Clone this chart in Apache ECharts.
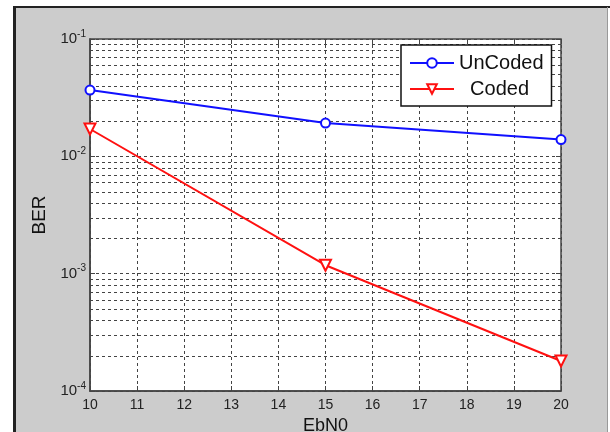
<!DOCTYPE html>
<html>
<head>
<meta charset="utf-8">
<script src="https://cdn.jsdelivr.net/npm/echarts@6/dist/echarts.min.js"></script>
<style>
  html, body { margin: 0; padding: 0; background: #fff; }
  #chart { width: 610px; height: 432px; }
</style>
</head>
<body>
<div id="chart"></div>
<script>
// Bit error rate versus Eb/N0, with and without coding
const ebn0 = [10, 15, 20];
const berUncoded = [0.0367, 0.0192, 0.0139];
const berCoded = [0.0171, 0.00118, 0.000180];
const xTicks = [10, 11, 12, 13, 14, 15, 16, 17, 18, 19, 20];
const decadeExponents = [-4, -3, -2, -1];
// minor grid lines at 2..9 times each decade
const minorGrid = [];
for (let e = -4; e <= -2; e++) {
  for (let m = 2; m <= 9; m++) minorGrid.push(m * Math.pow(10, e));
}

const gridLine = { color: '#444', width: 1, type: [3, 3] };
const chart = echarts.init(document.getElementById('chart'), null, { renderer: 'canvas' });

chart.setOption({
  backgroundColor: '#ffffff',
  animation: false,
  graphic: [
    { type: 'rect', z: -10, shape: { x: 14, y: 7, width: 594, height: 430 }, style: { fill: '#cccccc' } },
    { type: 'line', z: -9, shape: { x1: 14, y1: 7, x2: 610, y2: 7 }, style: { stroke: '#222', lineWidth: 2 } },
    { type: 'line', z: -9, shape: { x1: 14.5, y1: 6, x2: 14.5, y2: 432 }, style: { stroke: '#222', lineWidth: 3 } },
    { type: 'line', z: -9, shape: { x1: 607.5, y1: 7, x2: 607.5, y2: 432 }, style: { stroke: '#999', lineWidth: 1 } }
  ],
  grid: {
    left: 90, right: 49, top: 39, bottom: 41,
    outerBoundsMode: 'none', containLabel: false,
    show: true, backgroundColor: '#ffffff', borderColor: '#444', borderWidth: 1.5
  },
  legend: {
    left: 401, top: 45,
    orient: 'vertical',
    backgroundColor: '#ffffff',
    borderColor: '#111', borderWidth: 1.5,
    padding: [8, 8, 7, 8],
    itemGap: 6,
    itemWidth: 44, itemHeight: 12,
    textStyle: { fontFamily: 'Liberation Sans, Arial', fontSize: 20, color: '#111' },
    formatter: function (name) { return name === 'Coded' ? '  ' + name : name; },
    data: ['UnCoded', 'Coded']
  },
  xAxis: [{
    type: 'value', min: 10, max: 20, interval: 1,
    name: 'EbN0', nameLocation: 'middle', nameGap: 25,
    nameTextStyle: { fontFamily: 'Liberation Sans, Arial', fontSize: 18, color: '#111' },
    axisLine: { show: true, lineStyle: { color: '#444', width: 1.5 } },
    axisTick: { show: true, inside: true, length: 5, lineStyle: { color: '#444' } },
    axisLabel: { fontFamily: 'Liberation Sans, Arial', fontSize: 14, color: '#222', margin: 7,
      formatter: function (v) { return xTicks.indexOf(v) >= 0 ? String(v) : ''; } },
    splitLine: { show: true, lineStyle: gridLine }
  }, {
    type: 'value', min: 10, max: 20, interval: 1, position: 'top',
    axisLine: { show: false },
    axisTick: { show: true, inside: true, length: 5, lineStyle: { color: '#444' } },
    axisLabel: { show: false }, splitLine: { show: false }
  }],
  yAxis: [{
    type: 'log', logBase: 10, min: 1e-4, max: 1e-1,
    name: 'BER', nameLocation: 'middle', nameGap: 35,
    nameTextStyle: { fontFamily: 'Liberation Sans, Arial', fontSize: 19, color: '#111' },
    axisLine: { show: true, lineStyle: { color: '#444', width: 1.5 } },
    axisTick: { show: true, inside: true, length: 5, lineStyle: { color: '#444' } },
    axisLabel: {
      margin: 4,
      formatter: function (v) {
        const e = Math.round(Math.log10(v));
        return decadeExponents.indexOf(e) >= 0 ? '{b|10}{s|' + e + '}' : '';
      },
      rich: {
        b: { fontFamily: 'Liberation Sans, Arial', fontSize: 15, color: '#222' },
        s: { fontFamily: 'Liberation Sans, Arial', fontSize: 10, color: '#222', padding: [0, 0, 10, 0] }
      }
    },
    splitLine: { show: true, lineStyle: gridLine }
  }, {
    type: 'log', logBase: 10, min: 1e-4, max: 1e-1, position: 'right',
    axisLine: { show: false },
    axisTick: { show: true, inside: true, length: 5, lineStyle: { color: '#444' } },
    axisLabel: { show: false }, splitLine: { show: false }
  }],
  series: [{
    // dashed minor grid lines across the plot at 2..9 x 10^n
    name: 'minor-grid', type: 'custom',
    silent: true, z: 1, legendHoverLink: false,
    data: minorGrid.map(v => [v]),
    encode: { y: 0 },
    renderItem: function (params, api) {
      const v = api.value(0);
      const p1 = api.coord([10, v]);
      const p2 = api.coord([20, v]);
      return {
        type: 'line',
        shape: { x1: p1[0], y1: Math.round(p1[1]) + 0.5, x2: p2[0], y2: Math.round(p2[1]) + 0.5 },
        style: { stroke: '#444', lineWidth: 1, lineDash: [3, 3] }
      };
    }
  }, {
    name: 'UnCoded', type: 'line',
    data: ebn0.map((x, i) => [x, berUncoded[i]]),
    symbol: 'emptyCircle', symbolSize: 9,
    lineStyle: { color: '#1010ff', width: 2 },
    itemStyle: { color: '#1010ff', borderWidth: 2 },
    z: 5
  }, {
    name: 'Coded', type: 'line',
    data: ebn0.map((x, i) => [x, berCoded[i]]),
    symbol: 'emptyTriangle', symbolSize: 11, symbolRotate: 180,
    lineStyle: { color: '#ff1010', width: 2 },
    itemStyle: { color: '#ff1010', borderWidth: 1.5 },
    z: 5
  }]
});
</script>
</body>
</html>
